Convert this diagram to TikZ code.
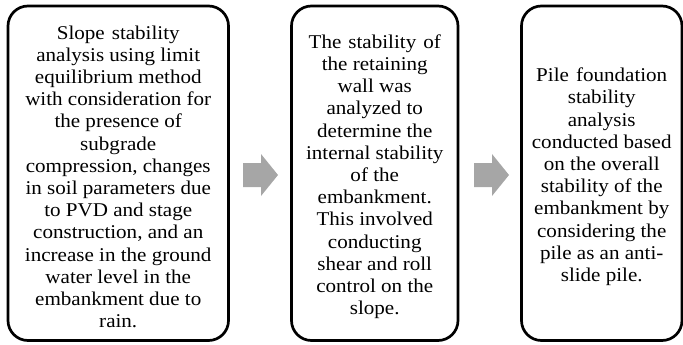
\documentclass[tikz,border=0pt]{standalone}
\usepackage{fontspec}
\setmainfont{Liberation Serif}[FakeStretch=1.08]
\newcommand\myboxfont{\fontsize{19.5}{22.2}\selectfont}
\newcommand\mywordsp{\spaceskip=0.36em plus 0.1em minus 0.05em\relax}
\begin{document}
\begin{tikzpicture}[x=1pt,y=-1pt,
  box/.style={draw=black, line width=2.7pt, rounded corners=20pt, fill=white, inner sep=0pt},
  txt/.style={align=center, inner sep=0pt, font=\myboxfont},
  blockarrow/.style={fill=arrowgray, draw=none}]
\definecolor{arrowgray}{HTML}{A6A6A6}
\useasboundingbox (0,0) rectangle (683,345);
% boxes
\node[box, minimum width=220.5pt, minimum height=334.5pt] (b1) at (118.25,173.25) {};
\node[box, minimum width=166.5pt, minimum height=334.5pt] (b2) at (374.75,173.25) {};
\node[box, minimum width=160.5pt, minimum height=334.5pt] (b3) at (601.75,173.25) {};
% texts
\node[txt] (t1) at ([yshift=-3.5pt]b1.center) {\mywordsp Slope stability\\ analysis using limit\\ equilibrium method\\ with consideration for\\ the presence of\\ subgrade\\ compression, changes\\ in soil parameters due\\ to PVD and stage\\ construction, and an\\ increase in the ground\\ water level in the\\ embankment due to\\ rain.};
\node[txt] (t2) at ([yshift=-3.5pt]b2.center) {\mywordsp The stability of\\ the retaining\\ wall was\\ analyzed to\\ determine the\\ internal stability\\ of the\\ embankment.\\ This involved\\ conducting\\ shear and roll\\ control on the\\ slope.};
\node[txt] (t3) at ([yshift=-3.5pt]b3.center) {\mywordsp Pile foundation\\ stability\\ analysis\\ conducted based\\ on the overall\\ stability of the\\ embankment by\\ considering the\\ pile as an anti-\\ slide pile.};
% block arrows
\coordinate (a1) at (243,175.5);
\coordinate (a2) at (474,175.5);
\foreach \a in {a1,a2}{
  \fill[blockarrow] (\a) ++(0,-12.5) -- ++(18,0) -- ++(0,-9) -- ++(17,21) -- ++(-17,21) -- ++(0,-9) -- ++(-18,0) -- cycle;
}
\end{tikzpicture}
\end{document}
